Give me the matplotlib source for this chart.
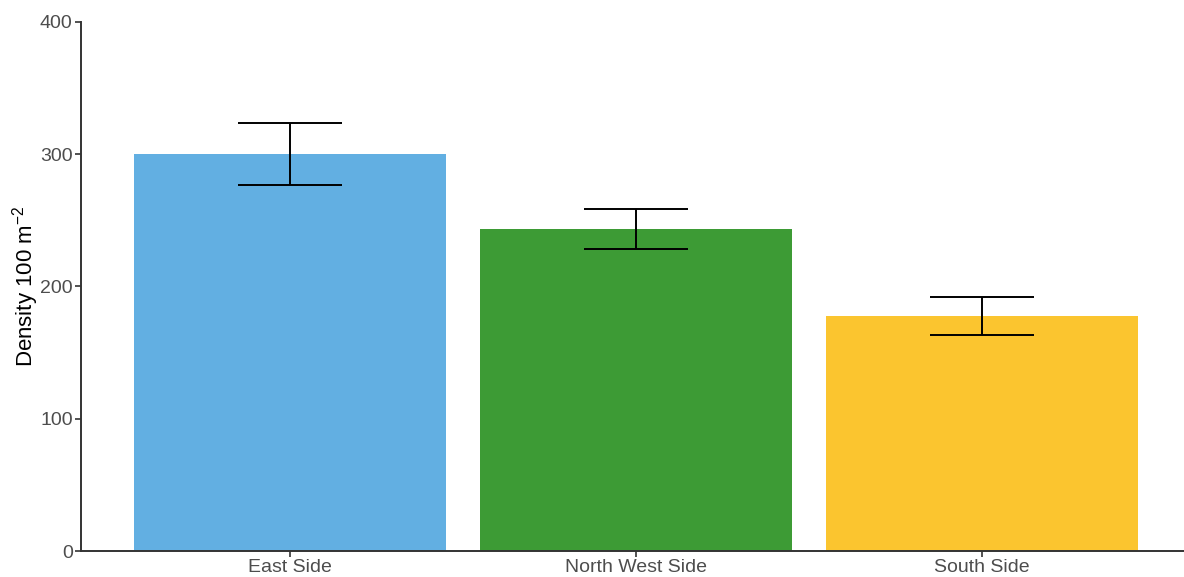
import matplotlib
matplotlib.use("Agg")
import matplotlib.pyplot as plt

plt.rcParams["font.family"] = ["Liberation Sans", "DejaVu Sans"]
plt.rcParams["mathtext.fontset"] = "custom"
plt.rcParams["mathtext.rm"] = "Liberation Sans"
plt.rcParams["mathtext.it"] = "Liberation Sans:italic"

# site means and standard errors
sites = ["East Side", "North West Side", "South Side"]
density = [300.0, 243.5, 177.5]
se = [23.5, 15.0, 14.5]
colors = ["#62AFE2", "#3D9B35", "#FBC52F"]

fig = plt.figure(figsize=(11.84, 5.77), dpi=100)
ax = fig.add_axes([0.0684, 0.045, 0.9316, 0.917])

x = list(range(len(sites)))
ax.bar(x, density, width=0.9, color=colors, linewidth=0, zorder=2)

# error bars with caps 0.3 units wide
lo = [d - s for d, s in zip(density, se)]
hi = [d + s for d, s in zip(density, se)]
ax.vlines(x, lo, hi, color="black", linewidth=1.4, zorder=3)
ax.hlines(lo, [i - 0.15 for i in x], [i + 0.15 for i in x], color="black", linewidth=1.4, zorder=3)
ax.hlines(hi, [i - 0.15 for i in x], [i + 0.15 for i in x], color="black", linewidth=1.4, zorder=3)

ax.set_xlim(-0.604, 2.584)
ax.set_ylim(0, 400)
ax.set_yticks([0, 100, 200, 300, 400])
ax.set_xticks(x)
ax.set_xticklabels(sites)

for side in ("top", "right"):
    ax.spines[side].set_visible(False)
for side in ("left", "bottom"):
    ax.spines[side].set_color("#333333")
    ax.spines[side].set_linewidth(1.4)

ax.tick_params(axis="both", colors="#333333", labelcolor="#4d4d4d",
               labelsize=14, length=4, width=1.2, pad=2)
ax.set_ylabel("Density 100 m$^{-2}$", fontsize=16, color="black")
ax.yaxis.set_label_coords(-0.036, 0.5)

fig.savefig("out.png", dpi=100)
